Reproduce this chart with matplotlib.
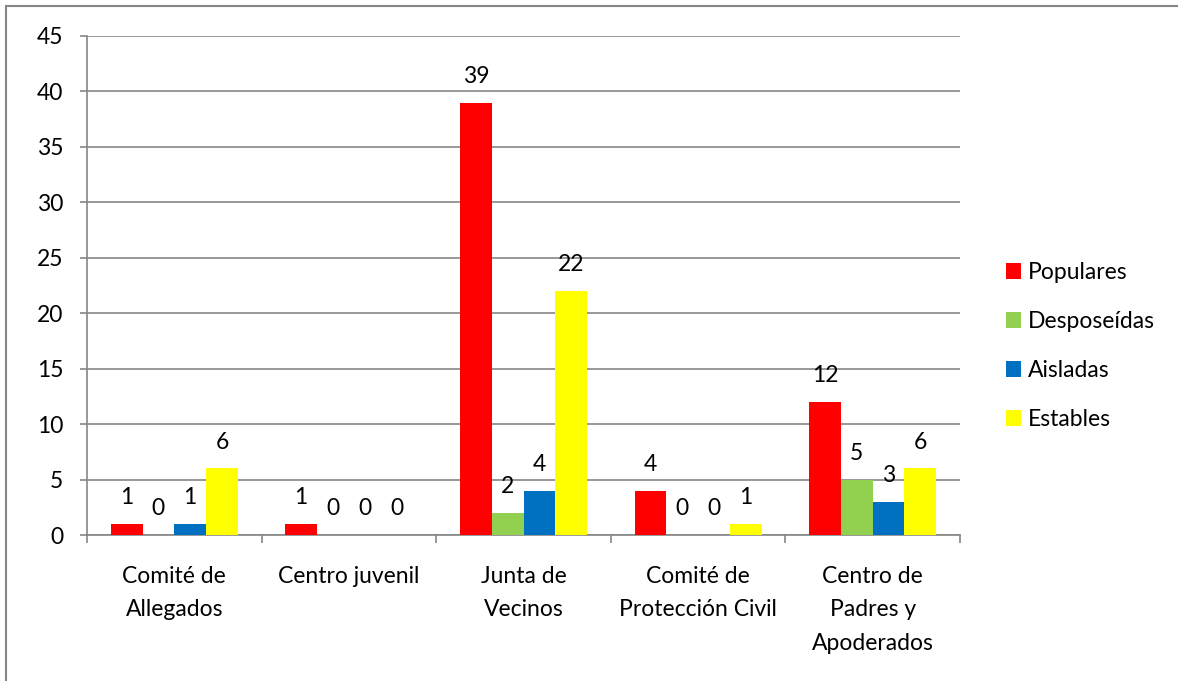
import matplotlib
matplotlib.use("Agg")
import matplotlib.pyplot as plt
import numpy as np
from matplotlib.patches import Rectangle, Patch

plt.rcParams['font.family'] = ['Lato', 'DejaVu Sans']

categories = ["Comité de\nAllegados", "Centro juvenil", "Junta de\nVecinos",
              "Comité de\nProtección Civil", "Centro de\nPadres y\nApoderados"]
series_names = ["Populares", "Desposeídas", "Aisladas", "Estables"]
populares = [1, 1, 39, 4, 12]
desposeidas = [0, 0, 2, 0, 5]
aisladas = [1, 0, 4, 0, 3]
estables = [6, 0, 22, 1, 6]
series_values = [populares, desposeidas, aisladas, estables]
colors = ["#FF0000", "#92D050", "#0070C0", "#FFFF00"]
yticks = list(range(0, 50, 5))

W, H = 1178, 681
fig = plt.figure(figsize=(W / 100, H / 100), dpi=100)
ax = fig.add_axes([87 / W, 1 - 535 / H, (960 - 87) / W, (535 - 36) / H])

grid_c = "#868686"
x = np.arange(len(categories))
bw = 0.182
fs = 16.5
for i, (vals, c) in enumerate(zip(series_values, colors)):
    pos = x + (i - 1.5) * bw
    ax.bar(pos, vals, width=bw, color=c, zorder=3)
    for px, v in zip(pos, vals):
        ax.annotate(str(v), (px, v), xytext=(0, 19), textcoords="offset points",
                    ha="center", va="center", fontsize=fs, color="black")

ax.set_xlim(-0.5, len(categories) - 0.5)
ax.set_ylim(0, 45)
ax.set_yticks(yticks)
ax.set_yticklabels([str(t) for t in yticks], fontsize=fs)
ax.yaxis.grid(True, color=grid_c, linewidth=1.2, zorder=0)
ax.tick_params(axis="y", length=5, width=1.2, color=grid_c, pad=12)

ax.set_xticks(np.arange(-0.5, len(categories)), minor=False)
ax.set_xticklabels([])
ax.set_xticks(x, minor=True)
ax.set_xticklabels(categories, minor=True, fontsize=fs, linespacing=1.72, va="top")
ax.tick_params(axis="x", which="major", length=6, width=1.2, color=grid_c, direction="out")
ax.tick_params(axis="x", which="minor", length=0, pad=22.5)

for s in ["top", "right"]:
    ax.spines[s].set_visible(False)
for s in ["left", "bottom"]:
    ax.spines[s].set_color(grid_c)
    ax.spines[s].set_linewidth(1.2)
ax.set_axisbelow(True)

handles = [Patch(facecolor=c, edgecolor="none") for c in colors]
fig.legend(handles, series_names, loc="center left",
           bbox_to_anchor=(997 / W, 1 - 346 / H), frameon=False, fontsize=fs,
           handlelength=0.66, handleheight=0.66, labelspacing=1.22,
           handletextpad=0.3, borderaxespad=0)

fig.patches.append(Rectangle((6 / W, -0.1), 1.2, (1 - 6 / H) + 0.1,
                             transform=fig.transFigure, fill=False,
                             edgecolor=grid_c, linewidth=1.5))

fig.savefig("out.png", dpi=100)
